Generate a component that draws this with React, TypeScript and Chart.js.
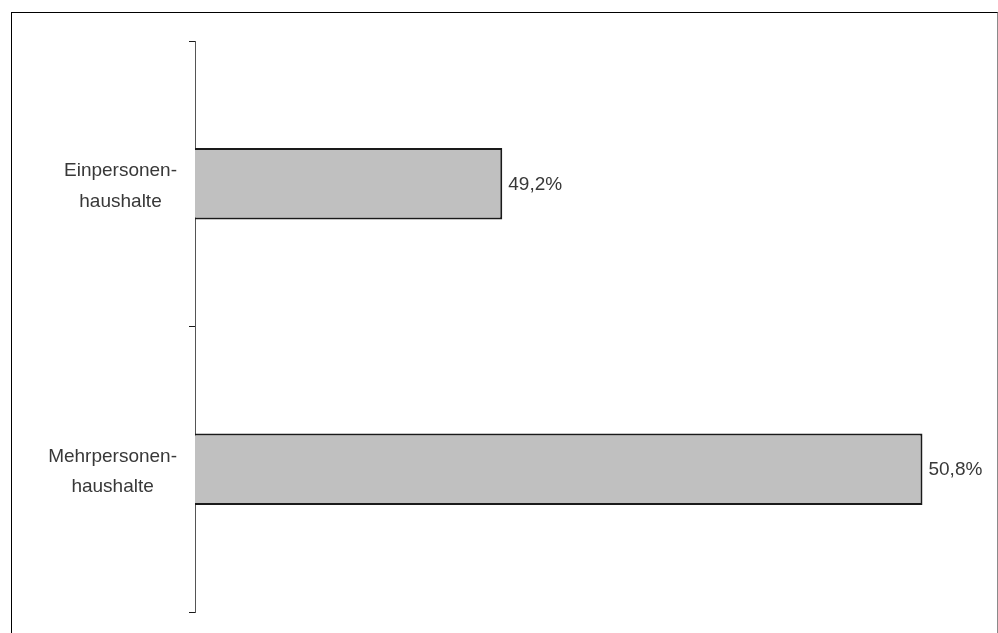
import React, { useEffect, useRef } from "react";
import { Chart, registerables } from "chart.js";

Chart.register(...registerables);

const categories: string[][] = [
  ["Einpersonen-", "haushalte"],
  ["Mehrpersonen-", "haushalte"],
];
const values: number[] = [49.2, 50.8];
const valueLabels: string[] = ["49,2%", "50,8%"];

const FONT = "19px 'Liberation Sans', Arial, sans-serif";
const TEXT_COLOR = "#383838";

const labelPlugin = {
  id: "customLabels",
  afterDraw(chart: any) {
    const ctx = chart.ctx;
    const yScale = chart.scales.y;
    ctx.save();
    ctx.font = FONT;
    ctx.fillStyle = TEXT_COLOR;
    // category labels: block centred, right edge aligned
    const rightEdge = yScale.right - 18;
    categories.forEach((lines, i) => {
      const cy = yScale.getPixelForValue(i);
      const w = Math.max(...lines.map((l) => ctx.measureText(l).width));
      const cx = rightEdge - w / 2;
      ctx.textAlign = "center";
      ctx.textBaseline = "alphabetic";
      const lineH = 30.5;
      const first = cy - 7.5;
      lines.forEach((l, j) => ctx.fillText(l, cx, first + j * lineH));
    });
    // value labels
    const meta = chart.getDatasetMeta(0);
    meta.data.forEach((el: any, i: number) => {
      ctx.textAlign = "left";
      ctx.textBaseline = "middle";
      ctx.fillText(valueLabels[i], el.x + 6, el.y + 1);
    });
    ctx.restore();
  },
};

export default function App() {
  const ref = useRef<HTMLCanvasElement | null>(null);
  useEffect(() => {
    if (!ref.current) return;
    const chart = new Chart(ref.current, {
      type: "bar",
      data: {
        labels: categories.map((c) => c.join(" ")),
        datasets: [
          {
            data: values,
            backgroundColor: "#c0c0c0",
            borderColor: "#1a1a1a",
            borderWidth: 2,
            borderSkipped: false,
            categoryPercentage: 1,
            barPercentage: 0.25,
          },
        ],
      },
      options: {
        indexAxis: "y",
        responsive: false,
        animation: false,
        events: [],
        layout: { padding: { left: 189, top: 41, bottom: 21, right: 23 } },
        plugins: {
          legend: { display: false },
          tooltip: { enabled: false },
        },
        scales: {
          x: { display: false, min: 48.03, max: 51 },
          y: {
            position: "left",
            grid: {
              display: true,
              drawOnChartArea: false,
              drawTicks: true,
              tickLength: 6,
              color: "#1a1a1a",
              offset: true,
            },
            border: { display: true, color: "#555555", width: 1 },
            ticks: { display: false },
            afterFit: (scale: any) => {
              scale.width = 6;
            },
          },
        },
      },
      plugins: [labelPlugin],
    });
    return () => chart.destroy();
  }, []);

  return (
    <>
      <canvas
        ref={ref}
        width={998}
        height={633}
        style={{ position: "fixed", left: 0, top: 0, display: "block" }}
      />
      <div
        style={{
          position: "fixed",
          left: 11,
          top: 12,
          width: 985,
          height: 640,
          borderTop: "1px solid #000",
          borderLeft: "1px solid #000",
          borderRight: "1px solid #8a8a8a",
          pointerEvents: "none",
        }}
      />
    </>
  );
}
